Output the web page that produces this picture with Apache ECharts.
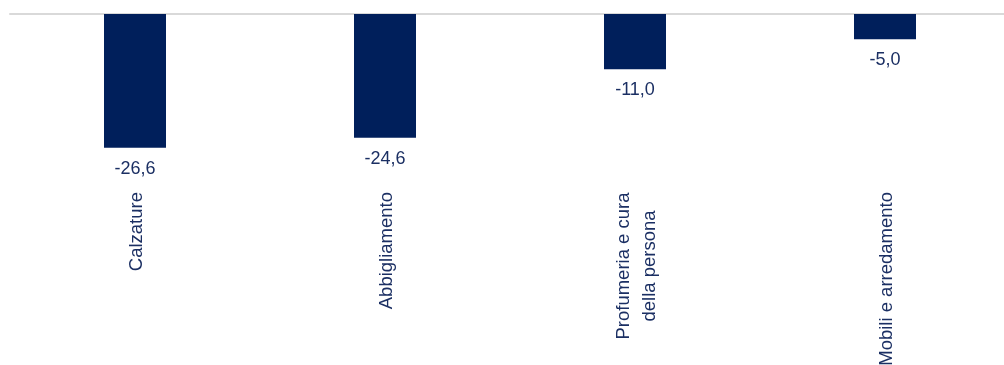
<!DOCTYPE html>
<html>
<head>
<meta charset="utf-8">
<script src="https://cdn.jsdelivr.net/npm/echarts@6/dist/echarts.min.js"></script>
<style>
  html, body { margin: 0; padding: 0; background: #fff; }
  #chart { width: 1004px; height: 365px; }
</style>
</head>
<body>
<div id="chart"></div>
<script>
const categories = ['Calzature', 'Abbigliamento', 'Profumeria e cura\ndella persona', 'Mobili e arredamento'];
const values = [-26.6, -24.6, -11.0, -5.0];

const chart = echarts.init(document.getElementById('chart'));
const navy = '#001f5b';
const textColor = '#1b2f63';
const font = 'Liberation Sans, Arial, sans-serif';

var option = {
  animation: false,
  grid: { left: 10, top: 14, width: 1000, height: 176, outerBoundsMode: 'none', containLabel: false },
  xAxis: [{
    type: 'category',
    data: categories,
    position: 'top',
    axisLine: { show: true, onZero: false, lineStyle: { color: '#d9d9d9', width: 2 } },
    axisTick: { show: false },
    axisLabel: { show: false }
  }, {
    type: 'category',
    data: categories,
    position: 'bottom',
    axisLine: { show: false },
    axisTick: { show: false },
    axisLabel: {
      rotate: 90,
      margin: 2,
      interval: 0,
      hideOverlap: false,
      padding: [3, 0, 0, 0],
      color: textColor,
      fontFamily: font,
      fontSize: 18.5,
      lineHeight: 26,
      formatter: function (v) {
        if (v.indexOf('\n') >= 0) {
          return v.split('\n').map(function (s) { return '{c|' + s + '}'; }).join('\n');
        }
        return v;
      },
      rich: {
        c: { width: 148, align: 'center', fontSize: 18.5, color: textColor, lineHeight: 26, fontFamily: font }
      }
    }
  }],
  yAxis: {
    type: 'value',
    min: -35,
    max: 0,
    show: false
  },
  series: [{
    type: 'bar',
    data: values,
    barWidth: 62,
    itemStyle: { color: navy },
    label: {
      show: true,
      position: 'bottom',
      distance: 12,
      color: textColor,
      fontFamily: font,
      fontSize: 18,
      formatter: function (p) { return p.value.toFixed(1).replace('.', ','); }
    }
  }]
};

chart.setOption(option);
</script>
</body>
</html>
